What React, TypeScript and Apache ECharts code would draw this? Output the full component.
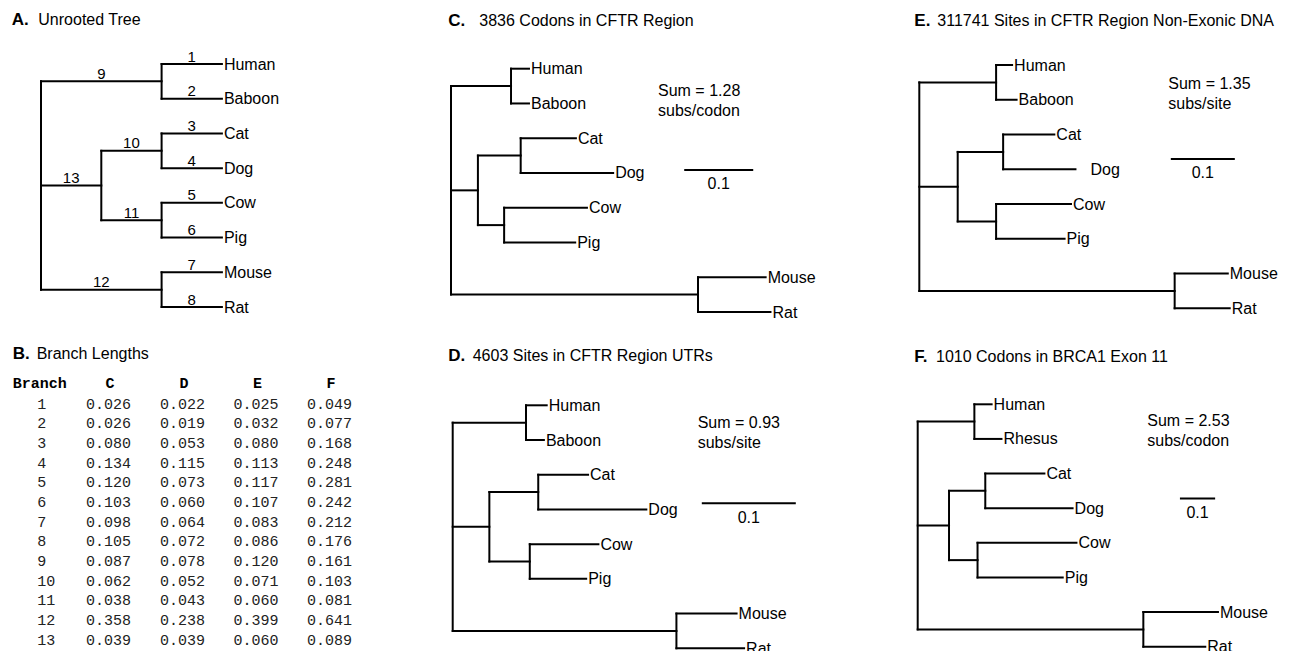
import React, { useEffect, useRef } from "react";
import * as echarts from "echarts";

// ---------------- data ----------------
const taxa = ["Human", "Baboon", "Cat", "Dog", "Cow", "Pig", "Mouse", "Rat"];
const taxaF = ["Human", "Rhesus", "Cat", "Dog", "Cow", "Pig", "Mouse", "Rat"];
const branchIds = [1, 2, 3, 4, 5, 6, 7, 8, 9, 10, 11, 12, 13];
const branchC = [0.026, 0.026, 0.08, 0.134, 0.12, 0.103, 0.098, 0.105, 0.087, 0.062, 0.038, 0.358, 0.039];
const branchD = [0.022, 0.019, 0.053, 0.115, 0.073, 0.06, 0.064, 0.072, 0.078, 0.052, 0.043, 0.238, 0.039];
const branchE = [0.025, 0.032, 0.08, 0.113, 0.117, 0.107, 0.083, 0.086, 0.12, 0.071, 0.06, 0.399, 0.06];
const branchF = [0.049, 0.077, 0.168, 0.248, 0.281, 0.242, 0.212, 0.176, 0.161, 0.103, 0.081, 0.641, 0.089];
// unscaled tree (panel A): steps per branch
const cladogramSteps = [1, 1, 1, 1, 1, 1, 1, 1, 2, 1, 1, 2, 1];
const tableColumns = ["C", "D", "E", "F"];
const sumValues = ["1.28", "0.93", "1.35", "2.53"];
const sumUnits = ["subs/codon", "subs/site", "subs/site", "subs/codon"];
const scaleBarLength = 0.1;

type TNode = { branch?: number; leaf?: number; children?: TNode[] };
const topology: TNode = {
  children: [
    { branch: 9, children: [{ branch: 1, leaf: 0 }, { branch: 2, leaf: 1 }] },
    {
      branch: 13,
      children: [
        { branch: 10, children: [{ branch: 3, leaf: 2 }, { branch: 4, leaf: 3 }] },
        { branch: 11, children: [{ branch: 5, leaf: 4 }, { branch: 6, leaf: 5 }] },
      ],
    },
    { branch: 12, children: [{ branch: 7, leaf: 6 }, { branch: 8, leaf: 7 }] },
  ],
};

// ---------------- layout ----------------
const FONT = "'Liberation Sans', Arial, Helvetica, sans-serif";
const MONO = "'Liberation Mono', 'Courier New', monospace";

function layoutTree(lengths: number[]) {
  const segs: number[][] = [];
  const hbr: { x1: number; x2: number; y: number; branch: number }[] = [];
  const tips: { x: number; y: number; leaf: number }[] = [];
  function rec(node: TNode, parentX: number): { x: number; y: number } {
    const x = node.branch ? parentX + lengths[node.branch - 1] : 0;
    let y: number;
    if (node.leaf !== undefined) {
      y = node.leaf;
      tips.push({ x, y, leaf: node.leaf });
    } else {
      const ys = (node.children || []).map((c) => rec(c, x).y);
      const y0 = Math.min(...ys);
      const y1 = Math.max(...ys);
      y = (y0 + y1) / 2;
      segs.push([x, y0, x, y1]);
    }
    if (node.branch) {
      segs.push([parentX, y, x, y]);
      hbr.push({ x1: parentX, x2: x, y, branch: node.branch });
    }
    return { x, y };
  }
  rec(topology, 0);
  return { segs, hbr, tips };
}

type Panel = {
  letter: string;
  title: string;
  letterX: number;
  titleX: number;
  titleY: number;
  lengths: number[];
  names: string[];
  left: number;
  top: number;
  height: number;
  unit: number;
  xMax: number;
  numbers?: boolean;
  bar?: [number, number];
  sumAt?: [number, number];
  sumIdx?: number;
  gaps?: Record<number, number>;
};

const panels: Panel[] = [
  { letter: "A.", title: "Unrooted Tree", letterX: 11.7, titleX: 38.3, titleY: 19.5, lengths: cladogramSteps, names: taxa, left: 41, top: 64, height: 243, unit: 60.3, xMax: 4, numbers: true },
  { letter: "C.", title: "3836 Codons in CFTR Region", letterX: 448.3, titleX: 479.3, titleY: 20, lengths: branchC, names: taxa, left: 451, top: 68.7, height: 243.3, unit: 690, xMax: 0.5, bar: [0.338, 2.914], sumAt: [658, 90.7], sumIdx: 0 },
  { letter: "D.", title: "4603 Sites in CFTR Region UTRs", letterX: 448.3, titleX: 472.7, titleY: 355, lengths: branchD, names: taxa, left: 452.7, top: 405.3, height: 243, unit: 940, xMax: 0.4, bar: [0.265, 2.824], sumAt: [697.7, 422.3], sumIdx: 1 },
  { letter: "E.", title: "311741 Sites in CFTR Region Non-Exonic DNA", letterX: 914.3, titleX: 937.3, titleY: 20.7, lengths: branchE, names: taxa, left: 919.3, top: 65, height: 243.3, unit: 640, xMax: 0.55, bar: [0.393, 2.704], sumAt: [1168.3, 83.3], sumIdx: 2, gaps: { 3: 15 } },
  { letter: "F.", title: "1010 Codons in BRCA1 Exon 11", letterX: 914.3, titleX: 936, titleY: 356, lengths: branchF, names: taxaF, left: 917.7, top: 404.3, height: 242.4, unit: 352, xMax: 1.0, bar: [0.745, 2.717], sumAt: [1147.3, 420.7], sumIdx: 3 },
];

function textStyle(text: string, size: number, align: string, vAlign: string, extra: any = {}) {
  return {
    text,
    fontSize: size,
    fontFamily: FONT,
    fill: "#000",
    align,
    verticalAlign: vAlign,
    textAlign: align,
    textVerticalAlign: vAlign,
    ...extra,
  };
}

function buildOption() {
  const grid: any[] = [];
  const xAxis: any[] = [];
  const yAxis: any[] = [];
  const series: any[] = [];
  const graphic: any[] = [];

  panels.forEach((p, i) => {
    const lay = layoutTree(p.lengths);
    grid.push({ left: p.left, top: p.top, width: p.xMax * p.unit, height: p.height, containLabel: false });
    xAxis.push({ type: "value", gridIndex: i, min: 0, max: p.xMax, show: false });
    yAxis.push({ type: "value", gridIndex: i, min: 0, max: 7, inverse: true, show: false });

    // tree branches
    series.push({
      type: "custom",
      xAxisIndex: i,
      yAxisIndex: i,
      dimensions: ["x1", "y1", "x2", "y2"],
      encode: { x: [0, 2], y: [1, 3] },
      data: lay.segs,
      silent: true,
      renderItem: (_params: any, api: any) => {
        const a = api.coord([api.value(0), api.value(1)]);
        const b = api.coord([api.value(2), api.value(3)]);
        return {
          type: "line",
          shape: { x1: a[0], y1: a[1], x2: b[0], y2: b[1] },
          style: { stroke: "#000", lineWidth: 2, lineCap: "square" },
        };
      },
    });

    // leaf labels
    series.push({
      type: "custom",
      xAxisIndex: i,
      yAxisIndex: i,
      data: lay.tips.map((t) => [t.x, t.y]),
      silent: true,
      renderItem: (params: any, api: any) => {
        const t = lay.tips[params.dataIndex];
        const c = api.coord([t.x, t.y]);
        const gap = p.gaps && p.gaps[t.leaf] !== undefined ? p.gaps[t.leaf] : 2;
        return {
          type: "text",
          x: c[0] + gap,
          y: c[1],
          style: textStyle(p.names[t.leaf], 16, "left", "middle"),
        };
      },
    });

    // branch numbers (panel A)
    if (p.numbers) {
      series.push({
        type: "custom",
        xAxisIndex: i,
        yAxisIndex: i,
        data: lay.hbr.map((h) => [(h.x1 + h.x2) / 2, h.y]),
        silent: true,
        renderItem: (params: any, api: any) => {
          const h = lay.hbr[params.dataIndex];
          const c = api.coord([(h.x1 + h.x2) / 2, h.y]);
          return {
            type: "text",
            x: c[0],
            y: c[1] - 8,
            style: textStyle(String(branchIds[h.branch - 1]), 15, "center", "middle"),
          };
        },
      });
    }

    // scale bar
    if (p.bar) {
      const bar = p.bar;
      series.push({
        type: "custom",
        xAxisIndex: i,
        yAxisIndex: i,
        dimensions: ["x1", "y1", "x2", "y2"],
        encode: { x: [0, 2], y: [1, 3] },
        data: [[bar[0], bar[1], bar[0] + scaleBarLength, bar[1]]],
        silent: true,
        renderItem: (_params: any, api: any) => {
          const a = api.coord([api.value(0), api.value(1)]);
          const b = api.coord([api.value(2), api.value(3)]);
          return {
            type: "group",
            children: [
              { type: "line", shape: { x1: a[0], y1: a[1], x2: b[0], y2: b[1] }, style: { stroke: "#000", lineWidth: 2 } },
              { type: "text", x: (a[0] + b[0]) / 2, y: a[1] + 14, style: textStyle(String(scaleBarLength), 16, "center", "middle") },
            ],
          };
        },
      });
    }

    // titles
    graphic.push({ type: "text", x: p.letterX, y: p.titleY, style: textStyle(p.letter, 17, "left", "middle", { fontWeight: "bold" }) });
    graphic.push({ type: "text", x: p.titleX, y: p.titleY, style: textStyle(p.title, 16, "left", "middle") });

    // sums
    if (p.sumAt && p.sumIdx !== undefined) {
      graphic.push({ type: "text", x: p.sumAt[0], y: p.sumAt[1], style: textStyle("Sum = " + sumValues[p.sumIdx], 16, "left", "middle") });
      graphic.push({ type: "text", x: p.sumAt[0], y: p.sumAt[1] + 19.7, style: textStyle(sumUnits[p.sumIdx], 16, "left", "middle") });
    }
  });

  // panel B: table of branch lengths
  graphic.push({ type: "text", x: 12.7, y: 353.3, style: textStyle("B.", 17, "left", "middle", { fontWeight: "bold" }) });
  graphic.push({ type: "text", x: 36.7, y: 353.3, style: textStyle("Branch Lengths", 16, "left", "middle") });
  const colLeft = [86, 160, 233.5, 307];
  const headerY = 384.3;
  const rowY0 = 405;
  const rowStep = 19.67;
  graphic.push({ type: "text", x: 12.7, y: headerY, style: textStyle("Branch", 15, "left", "middle", { fontFamily: MONO, fontWeight: "bold" }) });
  tableColumns.forEach((c, j) => {
    graphic.push({ type: "text", x: colLeft[j] + 24, y: headerY, style: textStyle(c, 15, "center", "middle", { fontFamily: MONO, fontWeight: "bold" }) });
  });
  const cols = [branchC, branchD, branchE, branchF];
  branchIds.forEach((id, r) => {
    const y = rowY0 + r * rowStep;
    graphic.push({ type: "text", x: 37.3, y, style: textStyle(String(id), 15, "left", "middle", { fontFamily: MONO, fill: "#222" }) });
    cols.forEach((col, j) => {
      graphic.push({ type: "text", x: colLeft[j], y, style: textStyle(col[r].toFixed(3), 15, "left", "middle", { fontFamily: MONO, fill: "#222" }) });
    });
  });

  return {
    animation: false,
    backgroundColor: "#fff",
    grid,
    xAxis,
    yAxis,
    series,
    graphic: { elements: graphic },
  };
}

export default function App() {
  const ref = useRef<HTMLDivElement>(null);
  useEffect(() => {
    if (!ref.current) return;
    const chart = echarts.init(ref.current, undefined, { renderer: "svg" });
    chart.setOption(buildOption() as any);
    return () => chart.dispose();
  }, []);
  return (
    <div
      ref={ref}
      style={{ position: "absolute", left: 0, top: 0, width: 1294, height: 651, background: "#fff" }}
    />
  );
}
